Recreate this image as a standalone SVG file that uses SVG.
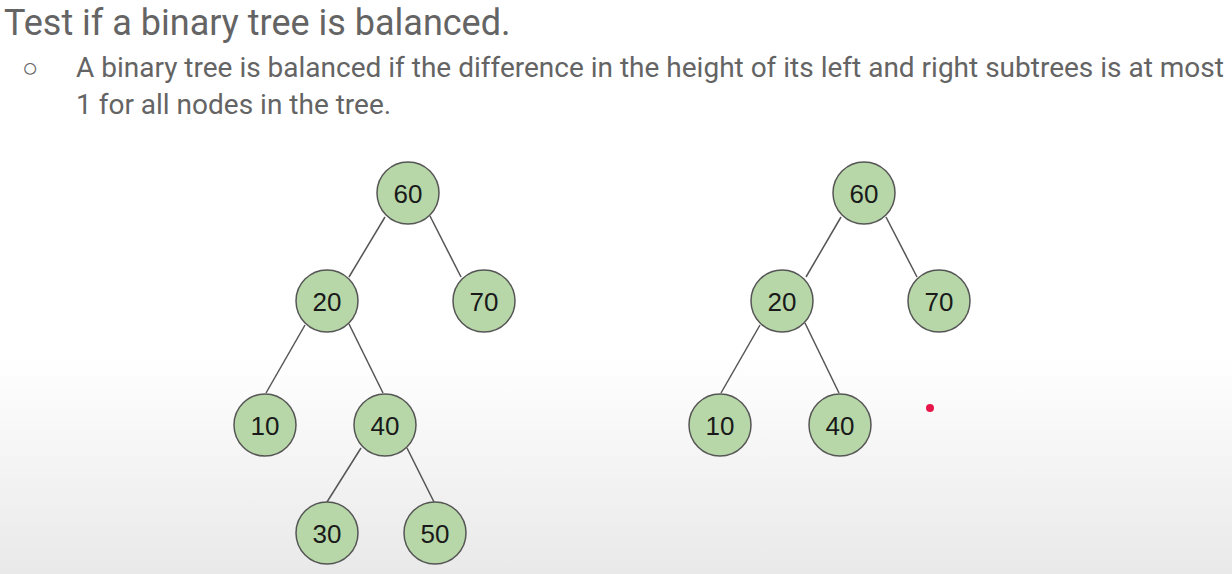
<svg xmlns="http://www.w3.org/2000/svg" width="1232" height="574" viewBox="0 0 1232 574">
<defs>
<linearGradient id="bg" x1="0" y1="0" x2="0" y2="1">
<stop offset="0" stop-color="#ffffff"/>
<stop offset="0.62" stop-color="#ffffff"/>
<stop offset="1" stop-color="#e9e9e9"/>
</linearGradient>
<style>
.hdr{font-family:Roboto,"Liberation Sans",sans-serif;fill:#646464;}
.node circle{fill:#b7d7a8;stroke:#555555;stroke-width:1.5;}
.node text{font-family:"Liberation Sans",Arial,sans-serif;font-size:26px;fill:#1a1a1a;text-anchor:middle;dominant-baseline:central;}
.edges line{stroke:#555555;stroke-width:1.5;}
</style>
</defs>
<rect x="0" y="0" width="1232" height="574" fill="url(#bg)"/>
<text class="hdr" x="4" y="35" font-size="36">Test if a binary tree is balanced.</text>
<text class="hdr" x="22" y="77" font-size="27">○</text>
<text class="hdr" x="76" y="77" font-size="28">A binary tree is balanced if the difference in the height of its left and right subtrees is at most</text>
<text class="hdr" x="76" y="114" font-size="28">1 for all nodes in the tree.</text>
<g class="edges" id="connectors">
<line x1="385" y1="217" x2="349" y2="277"/>
<line x1="430" y1="216" x2="461" y2="277"/>
<line x1="305" y1="325" x2="266" y2="393"/>
<line x1="349" y1="324" x2="383" y2="393"/>
<line x1="361" y1="448" x2="327" y2="502"/>
<line x1="407" y1="448" x2="434" y2="502"/>
<line x1="841" y1="217" x2="806" y2="277"/>
<line x1="886" y1="217" x2="917" y2="277"/>
<line x1="760" y1="325" x2="721" y2="393"/>
<line x1="805" y1="323" x2="839" y2="393"/>
</g>
<g class="node" id="a60"><circle cx="408" cy="193" r="31"/><text x="408" y="194">60</text></g>
<g class="node" id="a20"><circle cx="327" cy="301" r="31"/><text x="327" y="302">20</text></g>
<g class="node" id="a70"><circle cx="484" cy="301" r="31"/><text x="484" y="302">70</text></g>
<g class="node" id="a10"><circle cx="265" cy="425" r="31"/><text x="265" y="426">10</text></g>
<g class="node" id="a40"><circle cx="385" cy="425" r="31"/><text x="385" y="426">40</text></g>
<g class="node" id="a30"><circle cx="327" cy="533" r="31"/><text x="327" y="534">30</text></g>
<g class="node" id="a50"><circle cx="435" cy="533" r="31"/><text x="435" y="534">50</text></g>
<g class="node" id="b60"><circle cx="864" cy="193" r="31"/><text x="864" y="194">60</text></g>
<g class="node" id="b20"><circle cx="782" cy="301" r="31"/><text x="782" y="302">20</text></g>
<g class="node" id="b70"><circle cx="939" cy="301" r="31"/><text x="939" y="302">70</text></g>
<g class="node" id="b10"><circle cx="720" cy="425" r="31"/><text x="720" y="426">10</text></g>
<g class="node" id="b40"><circle cx="840" cy="425" r="31"/><text x="840" y="426">40</text></g>
<circle cx="930" cy="408" r="4" fill="#e8174a"/>
</svg>
